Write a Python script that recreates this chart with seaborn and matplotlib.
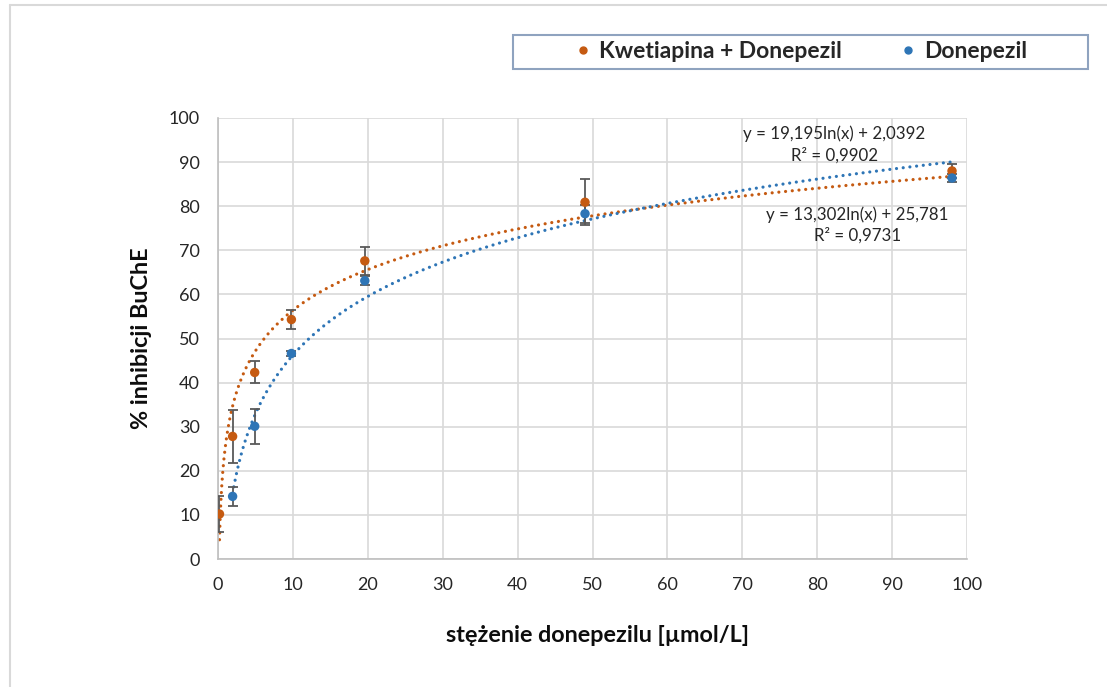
import numpy as np
import pandas as pd
import matplotlib
matplotlib.use("Agg")
import matplotlib.pyplot as plt
from matplotlib.lines import Line2D
from matplotlib.patches import Rectangle
import seaborn as sns

# ---- data ----
series_names = ["Kwetiapina + Donepezil", "Donepezil"]
x_kd = [0.2, 1.95, 4.9, 9.8, 19.6, 49, 98]
y_kd = [10.2, 27.8, 42.3, 54.3, 67.6, 80.9, 88.0]
err_kd = [4.0, 6.0, 2.5, 2.2, 3.2, 5.2, 1.6]
x_d = [1.95, 4.9, 9.8, 19.6, 49, 98]
y_d = [14.2, 30.1, 46.6, 63.1, 78.3, 86.4]
err_d = [2.2, 4.0, 0.6, 1.0, 2.0, 0.8]
# logarithmic trendline coefficients shown on the chart (y = a ln(x) + b)
trend_kd = [13.302, 25.781]
trend_d = [19.195, 2.0392]
eq_kd = ["y = 13,302ln(x) + 25,781", "R² = 0,9731"]
eq_d = ["y = 19,195ln(x) + 2,0392", "R² = 0,9902"]
x_ticks = [0, 10, 20, 30, 40, 50, 60, 70, 80, 90, 100]
y_ticks = [0, 10, 20, 30, 40, 50, 60, 70, 80, 90, 100]
x_label = "stężenie donepezilu [µmol/L]"
y_label = "% inhibicji BuChE"

ORANGE = "#C55A11"
BLUE = "#2E75B6"
GRID = "#D9D9D9"

sns.set_theme(style="white")
plt.rcParams["font.family"] = ["Lato", "DejaVu Sans"]

W, H = 1107, 687
fig = plt.figure(figsize=(W / 100, H / 100), dpi=100)
ax = fig.add_axes([218 / W, 1 - 559 / H, (967 - 218) / W, (559 - 118) / H])

df = pd.concat([
    pd.DataFrame({"x": x_kd, "y": y_kd, "s": series_names[0]}),
    pd.DataFrame({"x": x_d, "y": y_d, "s": series_names[1]}),
])

# trendlines
for xs, coef, col in [(x_kd, trend_kd, ORANGE), (x_d, trend_d, BLUE)]:
    xx = np.geomspace(min(xs), max(xs), 600)
    tdf = pd.DataFrame({"x": xx, "y": coef[0] * np.log(xx) + coef[1]})
    sns.lineplot(data=tdf, x="x", y="y", ax=ax, color=col, lw=2.3,
                 linestyle=(0, (0.01, 2.1)), dash_capstyle="round", zorder=2)

# error bars
for xs, ys, es in [(x_kd, y_kd, err_kd), (x_d, y_d, err_d)]:
    ax.errorbar(xs, ys, yerr=es, fmt="none", ecolor="#595959", elinewidth=1.3,
                capsize=3.5, capthick=1.3, zorder=3)

sns.scatterplot(data=df, x="x", y="y", hue="s", palette=[ORANGE, BLUE],
                s=46, edgecolor="none", ax=ax, zorder=4, legend=False)

ax.set_xlim(0, 100)
ax.set_ylim(0, 100)
ax.set_xticks(x_ticks)
ax.set_yticks(y_ticks)
ax.grid(True, color=GRID, lw=1.2)
ax.set_axisbelow(True)
for sp in ["top", "right"]:
    ax.spines[sp].set_visible(False)
for sp in ["left", "bottom"]:
    ax.spines[sp].set_color("#BFBFBF")
    ax.spines[sp].set_linewidth(1.2)
ax.tick_params(axis="both", length=0, labelsize=13, labelcolor="#262626")
ax.tick_params(axis="x", pad=13)
ax.tick_params(axis="y", pad=13)
ax.set_xlabel("")
ax.set_ylabel("")

fig.text(597 / W, 1 - 636 / H, x_label, ha="center", va="center",
         fontsize=16.8, fontweight="bold", color="#0D0D0D")
fig.text(141 / W, 1 - 338 / H, y_label, ha="center", va="center",
         rotation=90, fontsize=16.8, fontweight="bold", color="#0D0D0D")

# trendline equations
ax.text(82.3, 94.0, "\n".join(eq_d), ha="center", va="center", fontsize=12.2,
        color="#262626", linespacing=1.35)
ax.text(85.4, 75.7, "\n".join(eq_kd), ha="center", va="center", fontsize=12.2,
        color="#262626", linespacing=1.35)

# legend
handles = [Line2D([], [], marker="o", ls="none", color=ORANGE, markersize=5),
           Line2D([], [], marker="o", ls="none", color=BLUE, markersize=5)]
fig.legend(handles, series_names, loc="center", bbox_to_anchor=(799 / W, 1 - 52 / H),
           ncol=2, frameon=False, prop={"size": 16.5, "weight": "bold"},
           handletextpad=0.2, columnspacing=2.4, handlelength=1.0)
fig.patches.append(Rectangle((513 / W, 1 - 69 / H), 575 / W, 34 / H,
                             transform=fig.transFigure, fill=False,
                             edgecolor="#8FA3BF", lw=1.5))

# outer chart border (top and left visible)
fig.lines.append(Line2D([10 / W, 10 / W], [0, 1 - 5 / H], transform=fig.transFigure,
                        color=GRID, lw=1.5))
fig.lines.append(Line2D([10 / W, 1], [1 - 5 / H, 1 - 5 / H], transform=fig.transFigure,
                        color=GRID, lw=1.5))

fig.savefig("out.png", dpi=100)
